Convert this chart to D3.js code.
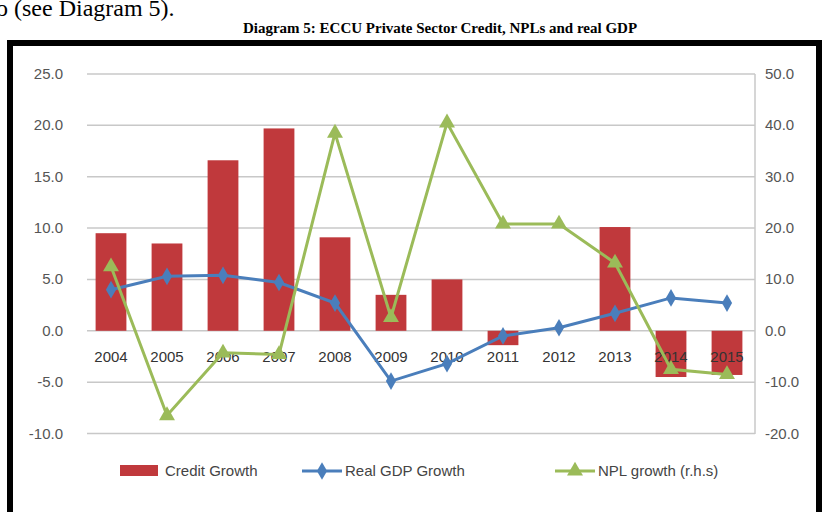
<!DOCTYPE html><html><head><meta charset="utf-8"><script src="https://cdn.jsdelivr.net/npm/d3@7"></script>
<style>body{margin:0;background:#fff}</style></head><body><svg id="c" width="825" height="512"></svg>
<script>
const years=["2004","2005","2006","2007","2008","2009","2010","2011","2012","2013","2014","2015"];
const credit=[9.5,8.5,16.6,19.7,9.1,3.5,5.0,-1.4,0.0,10.1,-4.5,-4.3];
const gdp=[4.0,5.3,5.4,4.7,2.7,-4.9,-3.2,-0.5,0.3,1.7,3.2,2.7];
const npl=[12.5,-16.5,-4.3,-4.6,38.5,2.6,40.5,20.8,20.8,13.2,-7.5,-8.5];
const leftTicks=[25,20,15,10,5,0,-5,-10];
const rightTicks=[50,40,30,20,10,0,-10,-20];
const svg=d3.select("#c");
svg.append("text").attr("x",-4).attr("y",16).attr("font-family","Liberation Serif").attr("font-size",24).text("o (see Diagram 5).");
svg.append("text").attr("x",440).attr("y",33).attr("text-anchor","middle").attr("font-family","Liberation Serif").attr("font-weight","bold").attr("font-size",15).text("Diagram 5: ECCU Private Sector Credit, NPLs and real GDP");
svg.append("rect").attr("x",10).attr("y",43).attr("width",809).attr("height",475).attr("fill","none").attr("stroke","#000").attr("stroke-width",6);
const x=d3.scaleBand().domain(years).range([83,755]).paddingInner(0.45).paddingOuter(0.225);
const y=d3.scaleLinear().domain([-10,25]).range([433.5,74]);
const y2=d3.scaleLinear().domain([-20,50]).range([433.5,74]);
const f="Liberation Sans";
const g=svg.append("g");
leftTicks.forEach(t=>{g.append("line").attr("x1",87).attr("x2",755).attr("y1",y(t)).attr("y2",y(t)).attr("stroke","#c8c8c8").attr("stroke-width",1.5);
g.append("text").attr("x",63).attr("y",y(t)+5).attr("text-anchor","end").attr("font-family",f).attr("font-size",15).attr("fill","#555").text(t.toFixed(1));});
rightTicks.forEach(t=>{g.append("text").attr("x",765).attr("y",y2(t)+5).attr("font-family",f).attr("font-size",15).attr("fill","#555").text(t.toFixed(1));});
g.append("line").attr("x1",755).attr("x2",755).attr("y1",74).attr("y2",434).attr("stroke","#c8c8c8").attr("stroke-width",1.5);
g.selectAll(".b").data(credit).join("rect").attr("x",(d,i)=>x(years[i])).attr("width",x.bandwidth())
 .attr("y",d=>y(Math.max(0,d))).attr("height",d=>Math.abs(y(d)-y(0))).attr("fill","#c0393c");
years.forEach(yr=>g.append("text").attr("x",x(yr)+x.bandwidth()/2).attr("y",362).attr("text-anchor","middle").attr("font-family",f).attr("font-size",15).attr("fill","#333").text(yr));
const cx=i=>x(years[i])+x.bandwidth()/2;
g.append("path").attr("d",d3.line().x((d,i)=>cx(i)).y(d=>y(d))(gdp)).attr("fill","none").attr("stroke","#4a7ebb").attr("stroke-width",3);
gdp.forEach((d,i)=>g.append("path").attr("d",d3.symbol(d3.symbolDiamond,90)()).attr("transform",`translate(${cx(i)},${y(d)})`).attr("fill","#4a7ebb"));
g.append("path").attr("d",d3.line().x((d,i)=>cx(i)).y(d=>y2(d))(npl)).attr("fill","none").attr("stroke","#9bbb59").attr("stroke-width",3);
npl.forEach((d,i)=>g.append("path").attr("d",d3.symbol(d3.symbolTriangle,110)()).attr("transform",`translate(${cx(i)},${y2(d)})`).attr("fill","#9bbb59"));
const ly=471;
g.append("rect").attr("x",120).attr("y",ly-6).attr("width",38).attr("height",11).attr("fill","#c0393c");
g.append("text").attr("x",165).attr("y",ly+5).attr("font-family",f).attr("font-size",15).attr("fill","#444").text("Credit Growth");
g.append("line").attr("x1",302).attr("x2",342).attr("y1",ly).attr("y2",ly).attr("stroke","#4a7ebb").attr("stroke-width",3);
g.append("path").attr("d",d3.symbol(d3.symbolDiamond,90)()).attr("transform",`translate(322,${ly})`).attr("fill","#4a7ebb");
g.append("text").attr("x",345).attr("y",ly+5).attr("font-family",f).attr("font-size",15).attr("fill","#444").text("Real GDP Growth");
g.append("line").attr("x1",555).attr("x2",595).attr("y1",ly).attr("y2",ly).attr("stroke","#9bbb59").attr("stroke-width",3);
g.append("path").attr("d",d3.symbol(d3.symbolTriangle,110)()).attr("transform",`translate(575,${ly})`).attr("fill","#9bbb59");
g.append("text").attr("x",598).attr("y",ly+5).attr("font-family",f).attr("font-size",15).attr("fill","#444").text("NPL growth (r.h.s)");
</script></body></html>
